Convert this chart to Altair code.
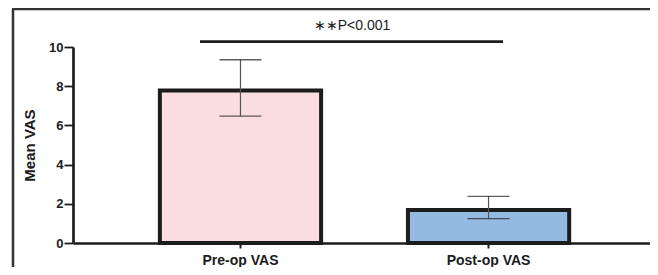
import altair as alt
import pandas as pd

groups = ["Pre-op VAS", "Post-op VAS"]
means = [7.78, 1.68]
err_lo = [6.47, 1.24]
err_hi = [9.35, 2.38]
fills = ["#F9DDDF", "#95BAE2"]
sig_label = "∗∗P<0.001"
sig_y = 10.27
sig_text_y = 11.05
y_ticks = [0, 2, 4, 6, 8, 10]

df = pd.DataFrame({"group": groups, "mean": means, "lo": err_lo, "hi": err_hi, "fill": fills})
one = pd.DataFrame({"k": [0]})

FONT = "Liberation Sans"
INK = "#1c1c1c"
xsc = alt.Scale(paddingInner=0.35, paddingOuter=0.338, align=0.518)
ysc = alt.Scale(domain=[0, 10], nice=False)
xax = alt.Axis(title=None, labelAngle=0, labelFontWeight="bold", labelFontSize=14,
               labelFont=FONT, labelColor=INK, domainColor=INK, domainWidth=2.4,
               tickColor=INK, tickWidth=2, tickSize=5, labelPadding=5)
yax = alt.Axis(title="Mean VAS", values=y_ticks, grid=False,
               labelOverlap=False, labelBound=False,
               labelFontWeight="bold", labelFontSize=13, labelFont=FONT,
               labelColor=INK, domainColor=INK, domainWidth=2.7,
               tickColor=INK, tickWidth=1.8, tickSize=9, labelPadding=1,
               titleFont=FONT, titleFontSize=15, titleFontWeight="bold",
               titleColor=INK, titlePadding=11)


def X():
    return alt.X("group:N", sort=groups, scale=xsc, axis=xax)


def Y(field):
    return alt.Y(field, scale=ysc, axis=yax, title="Mean VAS")


bars = alt.Chart(df).mark_bar(stroke=INK, strokeWidth=4).encode(
    x=X(), y=Y("mean:Q"), fill=alt.Fill("fill:N", scale=None))
err = alt.Chart(df).mark_rule(color="#555", strokeWidth=1.2).encode(
    x=X(), y=Y("lo:Q"), y2="hi:Q")
cap_hi = alt.Chart(df).mark_tick(color=INK, thickness=1.3, size=42, orient="horizontal").encode(
    x=X(), y=Y("hi:Q"))
cap_lo = alt.Chart(df).mark_tick(color=INK, thickness=1.3, size=42, orient="horizontal").encode(
    x=X(), y=Y("lo:Q"))

sig_df = pd.DataFrame({"y": [sig_y], "ty": [sig_text_y], "label": [sig_label]})
sig_line = alt.Chart(sig_df).mark_rule(color=INK, strokeWidth=2.8).encode(
    x=alt.value(127), x2=alt.value(430), y=Y("y:Q"))
sig_txt = alt.Chart(sig_df).mark_text(font=FONT, fontSize=14, color=INK).encode(
    x=alt.value(279), y=Y("ty:Q"), text="label:N")

frame_left = alt.Chart(one).mark_rule(color="#333", strokeWidth=2.5).encode(
    x=alt.value(-60), y=alt.value(-38), y2=alt.value(222))
frame_top = alt.Chart(one).mark_rule(color="#333", strokeWidth=2.5).encode(
    x=alt.value(-61), x2=alt.value(600), y=alt.value(-38))

chart = alt.layer(bars, err, cap_hi, cap_lo, sig_line, sig_txt, frame_left, frame_top).properties(
    width=577, height=196,
    autosize=alt.AutoSizeParams(type="none"),
    padding={"left": 65, "top": 39, "right": 0, "bottom": 24},
    background="white",
).configure_view(stroke=None)

chart.save("out.html", embed_options={"renderer": "svg", "actions": False})
